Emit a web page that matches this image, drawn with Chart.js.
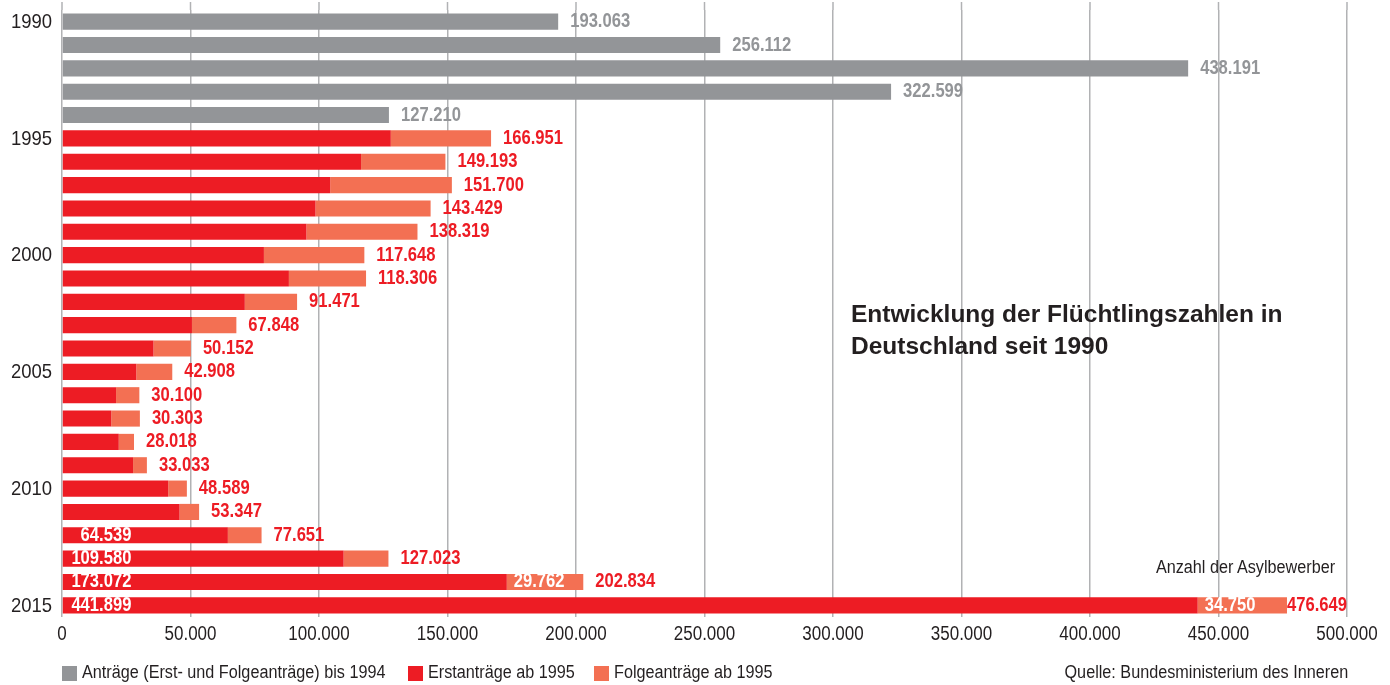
<!DOCTYPE html>
<html>
<head>
<meta charset="utf-8">
<script src="https://cdn.jsdelivr.net/npm/chart.js@4.4.1/dist/chart.umd.min.js"></script>
<style>
  html, body { margin: 0; padding: 0; background: #fff; }
  #wrap { position: relative; width: 1390px; height: 685px; overflow: hidden; }
  canvas { position: absolute; left: 0; top: 0; }
  .txt { position: absolute; white-space: nowrap; color: #231f20; font-family: 'Liberation Sans', Arial, sans-serif; font-size: 18px; line-height: 20px; }
  .l { transform: scaleX(0.9); transform-origin: 0 50%; }
  .r { transform: scaleX(0.9); transform-origin: 100% 50%; }
  #title { position: absolute; left: 851px; top: 298px; font-family: 'Liberation Sans', Arial, sans-serif; font-weight: bold; font-size: 24.5px; line-height: 32px; color: #231f20; white-space: nowrap; }
  .sq { position: absolute; width: 15px; height: 15px; top: 666px; }
</style>
</head>
<body>
<div id="wrap">
  <canvas id="c" width="1390" height="685"></canvas>
  <div id="title">Entwicklung der Flüchtlingszahlen in<br>Deutschland seit 1990</div>
  <div class="txt r" id="unit" style="right:55px; top:557px;">Anzahl der Asylbewerber</div>
  <div class="txt r" id="src" style="right:42px; top:662px;">Quelle: Bundesministerium des Inneren</div>
  <div id="legend"></div>
</div>
<script>
// ---- data ----
const years = ['1990','1991','1992','1993','1994','1995','1996','1997','1998','1999',
  '2000','2001','2002','2003','2004','2005','2006','2007','2008','2009',
  '2010','2011','2012','2013','2014','2015'];
// Anträge (Erst- und Folgeanträge) bis 1994
const antraegeBis1994 = [193063, 256112, 438191, 322599, 127210];
// Erstanträge ab 1995
const erstantraege = [127937, 116367, 104353, 98644, 95113, 78564, 88287, 71127, 50563, 35607,
  28914, 21029, 19164, 22085, 27649, 41332, 45741, 64539, 109580, 173072, 441899];
// Folgeanträge ab 1995
const folgeantraege = [39014, 32826, 47347, 44785, 43206, 39084, 30019, 20344, 17285, 14545,
  13994, 9071, 11139, 5933, 5384, 7257, 7606, 13112, 17443, 29762, 34750];
const xTicks = [0, 50000, 100000, 150000, 200000, 250000, 300000, 350000, 400000, 450000, 500000];
const yTickLabels = ['1990', '1995', '2000', '2005', '2010', '2015'];
const erstLabelYears = ['2012','2013','2014','2015'];
const folgeLabelYears = ['2014','2015'];
const seriesNames = ['Anträge (Erst- und Folgeanträge) bis 1994', 'Erstanträge ab 1995', 'Folgeanträge ab 1995'];

// ---- styling ----
const GRAY = '#939598', RED = '#ed1c24', SALMON = '#f37053', TEXT = '#231f20', GRID = '#b1b2b4';
const FONT = "'Liberation Sans', Arial, sans-serif";
const colors = [GRAY, RED, SALMON];

const nPre = antraegeBis1994.length;
const grayData = years.map((y, i) => i < nPre ? antraegeBis1994[i] : null);
const erstData = years.map((y, i) => i < nPre ? null : erstantraege[i - nPre]);
const folgeData = years.map((y, i) => i < nPre ? null : folgeantraege[i - nPre]);

function fmt(v) { return String(v).replace(/\B(?=(\d{3})+(?!\d))/g, '.'); }

// legend (HTML)
const legendPos = [62, 408, 594];
const lg = document.getElementById('legend');
seriesNames.forEach((n, i) => {
  const s = document.createElement('div'); s.className = 'sq';
  s.style.left = legendPos[i] + 'px'; s.style.background = colors[i]; lg.appendChild(s);
  const t = document.createElement('div'); t.className = 'txt l';
  t.style.left = (legendPos[i] + 20) + 'px'; t.style.top = '662px'; t.textContent = n; lg.appendChild(t);
});

// condensed text helper (horizontal squeeze of Liberation Sans)
function cText(ctx, txt, x, y, align, sx) {
  const w = ctx.measureText(txt).width * sx;
  const left = align === 'right' ? x - w : align === 'center' ? x - w / 2 : x;
  ctx.save();
  ctx.translate(left, y);
  ctx.scale(sx, 1);
  ctx.textAlign = 'left';
  ctx.fillText(txt, 0, 0);
  ctx.restore();
  return w;
}

const gridTopPlugin = {
  id: 'gridTop',
  beforeDatasetsDraw(chart) {
    const ctx = chart.ctx, xs = chart.scales.x, area = chart.chartArea;
    ctx.save();
    ctx.strokeStyle = GRID; ctx.lineWidth = 1.5;
    xTicks.forEach(v => {
      const x = xs.getPixelForValue(v);
      ctx.beginPath(); ctx.moveTo(x, 2); ctx.lineTo(x, area.top); ctx.stroke();
    });
    ctx.restore();
  }
};

const labelPlugin = {
  id: 'valueLabels',
  afterDatasetsDraw(chart) {
    const ctx = chart.ctx, xs = chart.scales.x, ys = chart.scales.y, area = chart.chartArea;
    ctx.save();
    ctx.textBaseline = 'middle';
    // axis tick labels
    ctx.font = '20px ' + FONT; ctx.fillStyle = TEXT;
    xTicks.forEach(v => cText(ctx, fmt(v), xs.getPixelForValue(v), area.bottom + 17.5, 'center', 0.85));
    ctx.font = '21px ' + FONT;
    yTickLabels.forEach(l => cText(ctx, l, 52, ys.getPixelForValue(years.indexOf(l)) + 0.5, 'right', 0.88));
    // value labels
    ctx.font = 'bold 20px ' + FONT;
    const sx = 0.83;
    const m0 = chart.getDatasetMeta(0), m1 = chart.getDatasetMeta(1);
    years.forEach((yr, i) => {
      let total, color, y;
      if (grayData[i] != null) { total = grayData[i]; color = GRAY; y = m0.data[i].y; }
      else { total = erstData[i] + folgeData[i]; color = RED; y = m1.data[i].y; }
      const txt = fmt(total);
      const w = ctx.measureText(txt).width * sx;
      let x = xs.getPixelForValue(total) + 12;
      if (x + w > area.right) x = area.right - w;
      ctx.fillStyle = color;
      cText(ctx, txt, x, y, 'left', sx);
      if (erstLabelYears.includes(yr)) {
        ctx.fillStyle = '#fff';
        cText(ctx, fmt(erstData[i]), xs.getPixelForValue(27000), y, 'right', sx);
      }
      if (folgeLabelYears.includes(yr)) {
        ctx.fillStyle = '#fff';
        cText(ctx, fmt(folgeData[i]), xs.getPixelForValue(erstData[i]) + 7, y, 'left', sx);
      }
    });
    ctx.restore();
  }
};

new Chart(document.getElementById('c'), {
  type: 'bar',
  data: {
    labels: years,
    datasets: [
      { label: seriesNames[0], data: grayData, backgroundColor: GRAY },
      { label: seriesNames[1], data: erstData, backgroundColor: RED },
      { label: seriesNames[2], data: folgeData, backgroundColor: SALMON }
    ]
  },
  options: {
    indexAxis: 'y',
    responsive: false,
    animation: false,
    devicePixelRatio: 1,
    layout: { padding: { top: 10, right: 43, left: 0, bottom: 0 } },
    datasets: { bar: { categoryPercentage: 1, barPercentage: 0.69, borderWidth: 0 } },
    plugins: { legend: { display: false }, tooltip: { enabled: false } },
    scales: {
      x: {
        stacked: true, min: 0, max: 500000,
        afterBuildTicks(s) { s.ticks = xTicks.map(v => ({ value: v })); },
        afterFit(s) { s.height = 68; s.paddingLeft = 0; s.paddingRight = 0; },
        grid: { color: GRID, lineWidth: 1.5, drawTicks: false },
        border: { display: false },
        ticks: { display: false }
      },
      y: {
        stacked: true,
        afterFit(s) { s.width = 62; s.paddingTop = 0; s.paddingBottom = 0; },
        grid: { display: false, drawTicks: false },
        border: { display: false },
        ticks: { display: false }
      }
    }
  },
  plugins: [gridTopPlugin, labelPlugin]
});
</script>
</body>
</html>
